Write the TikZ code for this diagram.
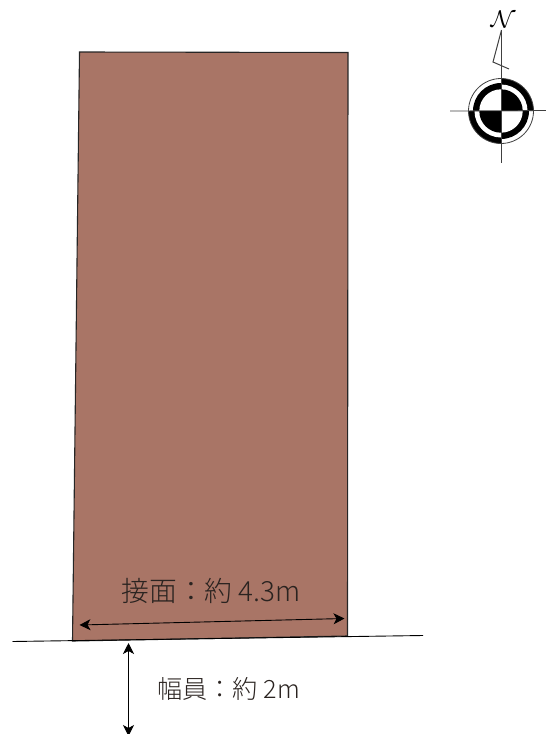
\documentclass[tikz,border=0pt]{standalone}
\usepackage{fontspec}
\usetikzlibrary{arrows.meta}
\newfontfamily\jpfont{Noto Sans CJK JP}[UprightFont=* Light]
\definecolor{lotfill}{HTML}{A97566}
\definecolor{txtdark}{HTML}{2A2320}
\tikzset{
  lot/.style={draw=black!85,line width=1.1pt,fill=lotfill,line join=miter},
  roadline/.style={draw=black,line width=0.9pt},
  dim/.style={draw=black,line width=0.9pt,{Stealth[length=11pt,width=11pt,inset=3pt]}-{Stealth[length=11pt,width=11pt,inset=3pt]}},
  lab/.style={inner sep=0pt,text=txtdark},
  thinline/.style={draw=black!75,line width=0.8pt},
  blk/.style={fill=black,draw=none},
}
\begin{document}
\begin{tikzpicture}[x=1pt,y=-1pt]
\useasboundingbox (0,0) rectangle (546,734);
% lot
\coordinate (lotTL) at (79.5,52);
\coordinate (lotTR) at (348,52.5);
\coordinate (lotBR) at (347.5,636);
\coordinate (lotBL) at (72.5,641);
\draw[lot] (lotTL) -- (lotTR) -- (lotBR) -- (lotBL) -- cycle;
% road
\coordinate (roadL) at (12.5,641.5);
\coordinate (roadR) at (423,635.5);
\draw[roadline] (roadL) -- (roadR);
% frontage dimension
\coordinate (frontL) at (79.5,625);
\coordinate (frontR) at (344.5,618.5);
\draw[dim] (frontL) -- (frontR);
\node[lab,font=\jpfont\fontsize{27.8}{30}\selectfont] (frontlabel) at (211,591) {接面：約 4.3m};
% road width dimension
\coordinate (widthT) at (128.5,643);
\coordinate (widthB) at (128.5,736);
\draw[dim] (widthT) -- (widthB);
\node[lab,font=\jpfont\fontsize{25.2}{27}\selectfont] (widthlabel) at (228.5,688.5) {幅員：約 2m};
% compass
\coordinate (cc) at (501,111);
\begin{scope}[shift={(cc)},yscale=-1]
  \fill[blk] (0,0) -- (32.5,0) arc[start angle=0,end angle=90,radius=32.5] -- cycle;
  \fill[blk] (0,0) -- (-32.5,0) arc[start angle=180,end angle=270,radius=32.5] -- cycle;
  \draw[thinline] (0,0) circle[radius=32.5];
  \fill[white] (0,0) -- (26.5,0) arc[start angle=0,end angle=90,radius=26.5] -- cycle;
  \fill[white] (0,0) -- (-26.5,0) arc[start angle=180,end angle=270,radius=26.5] -- cycle;
  \fill[blk] (0,0) -- (0,28) arc[start angle=90,end angle=180,radius=28] -- cycle;
  \fill[blk] (0,0) -- (0,-28) arc[start angle=270,end angle=360,radius=28] -- cycle;
  \fill[white] (0,0) circle[radius=21.7];
  \fill[blk] (0,0) -- (21.7,0) arc[start angle=0,end angle=90,radius=21.7] -- cycle;
  \fill[blk] (0,0) -- (-21.7,0) arc[start angle=180,end angle=270,radius=21.7] -- cycle;
\end{scope}
\coordinate (armL) at (450,111);
\coordinate (armR) at (546,110.5);
\coordinate (armT) at (501.5,30);
\coordinate (armB) at (501.5,163);
\coordinate (flagA) at (493,62);
\coordinate (flagB) at (509,69);
\draw[thinline] (armL) -- (armR);
\draw[thinline] (armT) -- (armB);
\draw[thinline,line width=1pt,line join=miter] (armT) -- (flagA) -- (flagB);
\node[inner sep=0pt,rotate=-6,scale=2.4] (north) at (503,20) {$\mathcal{N}$};
\end{tikzpicture}
\end{document}
